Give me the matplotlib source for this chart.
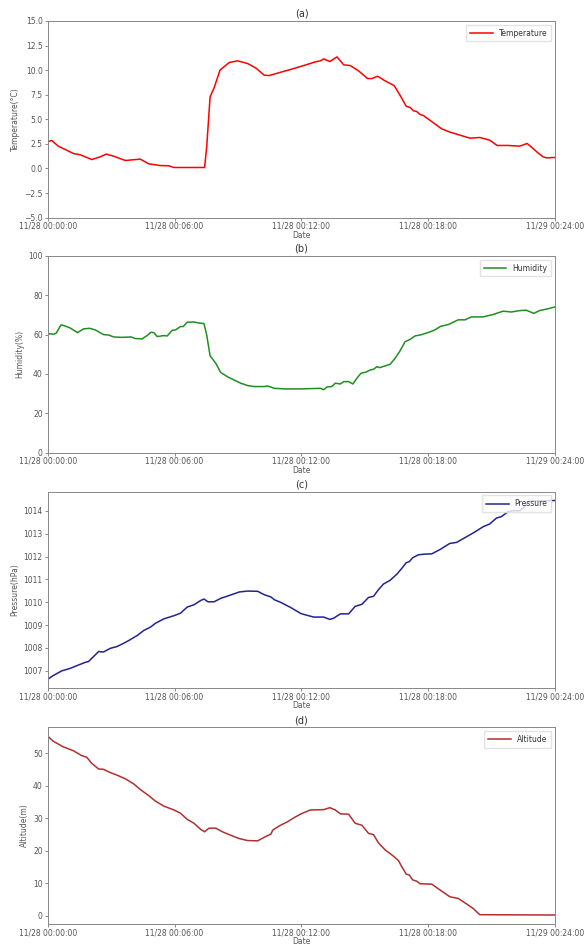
import numpy as np
import matplotlib
matplotlib.use('Agg')
import matplotlib.pyplot as plt

# time in hours since start
temp_t = [0, 0.19, 0.5, 1.22, 1.54, 2.09, 2.49, 2.77, 3.12, 3.67, 4.38, 4.78, 5.33,
          5.73, 5.97, 7.42, 7.52, 7.68, 7.87, 8.15, 8.58, 8.98, 9.45, 9.85, 10.24,
          10.48, 11.19, 11.48, 12.27, 12.66, 12.9, 13.05, 13.34, 13.68, 14.0, 14.31,
          14.7, 15.13, 15.33, 15.6, 15.96, 16.38, 16.66, 16.95, 17.14, 17.3, 17.45,
          17.61, 17.77, 18.24, 18.63, 19.03, 19.49, 19.97, 20.43, 20.9, 21.25, 21.77,
          22.32, 22.67, 22.95, 23.18, 23.42, 23.58, 24.0]
temp_v = [2.7, 2.85, 2.27, 1.52, 1.39, 0.91, 1.19, 1.46, 1.25, 0.81, 0.95, 0.47, 0.3,
          0.27, 0.1, 0.1, 2.2, 7.28, 8.2, 10.0, 10.77, 10.94, 10.67, 10.2, 9.48,
          9.45, 9.89, 10.06, 10.57, 10.84, 10.94, 11.14, 10.87, 11.34, 10.53, 10.46,
          9.92, 9.14, 9.14, 9.38, 8.9, 8.43, 7.45, 6.33, 6.2, 5.86, 5.79,
          5.49, 5.38, 4.64, 4.03, 3.69, 3.39, 3.08, 3.15, 2.88, 2.34, 2.34,
          2.27, 2.54, 2.03, 1.59, 1.19, 1.08, 1.12]

hum_t = [0, 0.27, 0.4, 0.63, 0.74, 1.06, 1.41, 1.69, 1.98, 2.25, 2.64, 2.88, 3.12,
         3.51, 3.94, 4.15, 4.46, 4.7, 4.89, 5.02, 5.18, 5.49, 5.65, 5.89, 6.05, 6.28,
         6.41, 6.6, 6.92, 7.16, 7.39, 7.52, 7.68, 7.95, 8.18, 8.5, 8.82, 9.13, 9.45,
         9.77, 10.24, 10.4, 10.72, 11.19, 11.98, 12.27, 12.9, 13.05, 13.21, 13.44,
         13.6, 13.84, 14.0, 14.23, 14.43, 14.62, 14.81, 15.06, 15.25, 15.41, 15.57,
         15.69, 15.96, 16.19, 16.43, 16.66, 16.9, 17.14, 17.37, 17.69, 18.08, 18.31,
         18.58, 18.94, 19.41, 19.73, 20.04, 20.59, 21.06, 21.53, 21.93, 22.32, 22.63,
         22.98, 23.26, 23.65, 24.0]
hum_v = [60.5, 60.2, 60.7, 64.9, 64.7, 63.4, 61.0, 62.9, 63.2, 62.4, 60.0, 59.8, 58.8,
         58.6, 58.8, 58.0, 57.8, 59.5, 61.2, 61.0, 59.0, 59.5, 59.3, 62.2, 62.4, 64.1,
         64.1, 66.3, 66.4, 65.9, 65.6, 59.8, 49.2, 45.4, 40.8, 38.6, 36.9, 35.3, 34.1,
         33.6, 33.6, 33.9, 32.7, 32.4, 32.4, 32.5, 32.7, 32.0, 33.4, 33.6,
         35.3, 34.9, 36.1, 36.1, 34.9, 37.8, 40.3, 41.0, 42.0, 42.4, 43.7,
         43.2, 44.1, 44.9, 48.0, 51.7, 56.4, 57.6, 59.3, 60.0, 61.4, 62.4,
         64.2, 65.1, 67.5, 67.5, 69.0, 69.0, 70.2, 71.9, 71.5, 72.2, 72.4,
         70.8, 72.2, 73.1, 74.1]

pres_t = [0, 0.27, 0.66, 1.06, 1.46, 1.82, 1.93, 2.17, 2.41, 2.64, 2.96, 3.28, 3.59,
          3.83, 4.23, 4.54, 4.86, 5.1, 5.49, 5.97, 6.28, 6.6, 6.92, 7.24, 7.39, 7.58,
          7.87, 8.18, 8.66, 9.06, 9.45, 9.93, 10.24, 10.56, 10.72, 11.03, 11.51, 11.98,
          12.58, 13.05, 13.34, 13.52, 13.84, 14.23, 14.54, 14.86, 15.17, 15.41, 15.64,
          15.88, 16.19, 16.51, 16.74, 16.95, 17.1, 17.26, 17.53, 17.84, 18.16, 18.55,
          19.02, 19.33, 19.73, 20.2, 20.59, 20.9, 21.22, 21.45, 21.77, 22.0, 22.32,
          22.55, 22.79, 24.0]
pres_v = [1006.62, 1006.79, 1006.99, 1007.1, 1007.25, 1007.38, 1007.4, 1007.62, 1007.84,
          1007.82, 1007.98, 1008.06, 1008.2, 1008.32, 1008.54, 1008.76, 1008.91, 1009.08,
          1009.27, 1009.41, 1009.52, 1009.79, 1009.89, 1010.08, 1010.14, 1010.02,
          1010.02, 1010.17, 1010.32, 1010.45, 1010.49, 1010.48, 1010.33, 1010.23,
          1010.11, 1009.99, 1009.76, 1009.5, 1009.35, 1009.35, 1009.25, 1009.3,
          1009.49, 1009.49, 1009.82, 1009.91, 1010.21, 1010.26, 1010.55, 1010.8,
          1010.96, 1011.23, 1011.48, 1011.73, 1011.78, 1011.95, 1012.08, 1012.11,
          1012.12, 1012.31, 1012.58, 1012.62, 1012.83, 1013.08, 1013.31, 1013.43,
          1013.69, 1013.75, 1013.97, 1014.01, 1014.01, 1014.19, 1014.43, 1014.46]

alt_t = [0, 0.27, 0.74, 1.22, 1.61, 1.85, 2.09, 2.41, 2.64, 2.96, 3.28, 3.67, 4.07,
         4.38, 4.78, 5.1, 5.49, 5.97, 6.28, 6.6, 6.92, 7.24, 7.42, 7.63, 7.95, 8.26,
         8.66, 9.06, 9.45, 9.93, 10.24, 10.56, 10.64, 10.95, 11.35, 11.67, 11.98,
         12.42, 13.05, 13.34, 13.6, 13.84, 14.23, 14.54, 14.86, 15.17, 15.41, 15.64,
         15.96, 16.35, 16.59, 16.74, 16.95, 17.1, 17.26, 17.45, 17.61, 18.16, 18.55,
         19.02, 19.41, 19.81, 20.12, 20.43, 24.0]
alt_v = [55.3, 53.7, 52.0, 50.8, 49.3, 48.8, 46.9, 45.2, 45.1, 44.1, 43.3, 42.2, 40.6,
         38.9, 37.0, 35.3, 33.8, 32.6, 31.6, 29.7, 28.5, 26.6, 25.9, 27.0, 27.0, 25.9,
         24.8, 23.8, 23.2, 23.1, 24.2, 25.2, 26.4, 27.7, 29.0, 30.3, 31.4,
         32.6, 32.7, 33.3, 32.6, 31.4, 31.3, 28.5, 27.9, 25.4, 25.0, 22.5,
         20.3, 18.4, 17.0, 15.2, 12.9, 12.6, 11.1, 10.7, 9.9, 9.8, 8.0,
         5.9, 5.4, 3.7, 2.3, 0.4, 0.3]

xticks = [0, 6, 12, 18, 24]
xlabels = ['11/28 00:00:00', '11/28 00:06:00', '11/28 00:12:00',
           '11/28 00:18:00', '11/29 00:24:00']

panels = [
    ('(a)', temp_t, temp_v, 'red', 'Temperature', 'Temperature(°C)'),
    ('(b)', hum_t, hum_v, '#1f8f1f', 'Humidity', 'Humidity(%)'),
    ('(c)', pres_t, pres_v, '#232390', 'Pressure', 'Pressure(hPa)'),
    ('(d)', alt_t, alt_v, '#b03030', 'Altitude', 'Altitude(m)'),
]
bottoms = [0.7699, 0.5215, 0.2724, 0.0233]

fig = plt.figure(figsize=(5.87, 9.46), dpi=100)
for (tag, t, v, c, name, ylab), b in zip(panels, bottoms):
    ax = fig.add_axes([0.0812, b, 0.8647, 0.2080])
    ax.plot(t, v, color=c, lw=1.1, label=name)
    ax.set_xlim(0, 24)
    ax.set_xticks(xticks)
    ax.set_xticklabels(xlabels)
    ax.set_title(tag, fontsize=7, color='#333333', pad=3)
    ax.set_xlabel('Date', fontsize=5.5, color='#555555', labelpad=0)
    ax.set_ylabel(ylab, fontsize=5.5, color='#555555', labelpad=3)
    ax.tick_params(labelsize=5.5, labelcolor='#555555', color='#777777',
                   length=2.5, width=0.6, pad=1)
    ax.tick_params(axis='x', pad=0.5)
    for s in ax.spines.values():
        s.set_color('#888888')
        s.set_linewidth(0.7)
    ax.legend(loc='upper right', fontsize=5.5, handlelength=3,
              frameon=True, fancybox=False, edgecolor='#dddddd',
              borderpad=0.5, labelcolor='#333333')
    if tag == '(a)':
        ax.set_ylim(-5, 15)
        ax.set_yticks(np.arange(-5, 15.1, 2.5))
    elif tag == '(b)':
        ax.set_ylim(0, 100)
    elif tag == '(c)':
        ax.set_yticks(range(1007, 1015))

fig.savefig('out.png', dpi=100)
